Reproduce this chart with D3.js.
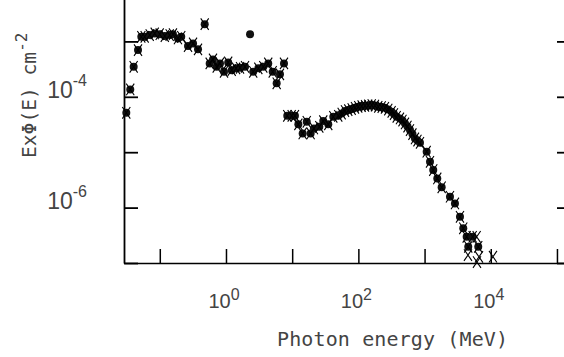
<!DOCTYPE html>
<html>
<head>
<meta charset="utf-8">
<script src="https://cdn.jsdelivr.net/npm/d3@7"></script>
<style>
  body { margin: 0; background: #fff; }
  svg { display: block; }
</style>
</head>
<body>
<div id="chart"></div>
<script>
// data: photon energy (MeV) and E x flux (cm^-2), points carrying both circle and cross
const energy = [0.0312, 0.0358, 0.0403, 0.0469, 0.0526, 0.0591, 0.0704, 0.0838, 0.0997, 0.119,
    0.141, 0.158, 0.188, 0.211, 0.267, 0.318, 0.378, 0.477, 0.567, 0.636,
    0.724, 0.812, 0.933, 1.08, 1.22, 1.42, 1.63, 1.94, 2.58, 3.08,
    3.66, 4.35, 5.08, 5.83, 6.54, 7.52, 8.43, 9.83, 11.0, 12.4,
    14.4, 16.6, 19.0, 21.3, 25.7, 29.5, 35.1, 41.8, 49.7, 55.9,
    62.8, 70.4, 79.2, 88.9, 99.6, 112, 126, 141, 159, 178,
    200, 225, 252, 283, 318, 345, 379, 425, 464, 506,
    552, 602, 656, 716, 781, 853, 1076, 1208, 1353, 1556,
    1812, 2421, 2878, 3427, 3843, 4324, 5330, 4571, 6471];
const flux = [5.14e-5, 1.36e-4, 3.48e-4, 6.96e-4, 1.21e-3, 1.21e-3, 1.30e-3, 1.39e-3, 1.35e-3, 1.25e-3,
    1.30e-3, 1.35e-3, 1.13e-3, 1.21e-3, 8.22e-4, 9.2e-4, 7.18e-4, 2.05e-3, 4.01e-4, 4.73e-4,
    3.48e-4, 4.01e-4, 2.82e-4, 4.18e-4, 3.03e-4, 3.26e-4, 3.34e-4, 3.48e-4, 2.82e-4, 3.26e-4,
    3.48e-4, 4.01e-4, 2.82e-4, 1.75e-4, 2.54e-4, 4.01e-4, 4.54e-5, 4.54e-5, 4.54e-5, 3.18e-5,
    2.18e-5, 3.54e-5, 2.18e-5, 2.69e-5, 2.87e-5, 3.64e-5, 3.18e-5, 4.36e-5, 4.54e-5, 4.98e-5,
    5.52e-5, 5.75e-5, 6.0e-5, 6.33e-5, 6.6e-5, 6.79e-5, 6.88e-5, 7.0e-5, 7.08e-5, 6.94e-5,
    6.6e-5, 6.52e-5, 6.33e-5, 5.88e-5, 5.36e-5, 4.88e-5, 4.36e-5, 4.07e-5, 3.72e-5, 3.31e-5,
    2.9e-5, 2.51e-5, 2.12e-5, 1.77e-5, 1.62e-5, 1.48e-5, 1.02e-5, 6.71e-6, 4.75e-6, 3.36e-6,
    2.32e-6, 1.57e-6, 1.19e-6, 6.82e-7, 4.22e-7, 2.97e-7, 2.97e-7, 1.96e-7, 1.96e-7];

// points with a circle only
const circleOnlyE = [2.31];
const circleOnlyF = [1.34e-3];

// points with a cross only
const crossOnlyE = [6124, 4525, 6637, 6190, 10800];
const crossOnlyF = [2.97e-7, 1.39e-7, 1.29e-7, 1.04e-7, 1.30e-7];

// ticks and labels
const xTicks = [1e-1, 1e0, 1e1, 1e2, 1e3, 1e4, 1e5];
const yTicks = [1e-7, 1e-6, 1e-5, 1e-4, 1e-3, 1e-2];
const xLabelVals = [1e0, 1e2, 1e4];
const xLabelExp = ['0', '2', '4'];
const yLabelVals = [1e-4, 1e-6];
const yLabelExp = ['-4', '-6'];

const width = 564, height = 357;
const plot = {left: 124, right: 571, top: -14, bottom: 263};
const tick = 14;
const textColor = '#444';

const svg = d3.select('#chart')
    .append('svg')
    .attr('width', width)
    .attr('height', height);

let x = d3.scaleLog()
    .domain([0.0288, 1.63e5])
    .range([plot.left, plot.right]);

let y = d3.scaleLog()
    .domain([1e-7, 1e-2])
    .range([plot.bottom, plot.top]);

// frame with inward ticks on all four sides
function styleAxis(g, w) {
    g.selectAll('path, line').attr('stroke', '#000').attr('stroke-width', w);
    g.selectAll('text').remove();
}
svg.append('g')
    .attr('transform', `translate(0,${plot.bottom})`)
    .call(d3.axisBottom(x).tickValues(xTicks).tickSizeInner(-tick).tickSizeOuter(0).tickFormat(''))
    .call(g => styleAxis(g, 1.5));
svg.append('g')
    .attr('transform', `translate(0,${plot.top})`)
    .call(d3.axisTop(x).tickValues(xTicks).tickSizeInner(-tick).tickSizeOuter(0).tickFormat(''))
    .call(g => styleAxis(g, 1.5));
svg.append('g')
    .attr('transform', `translate(${plot.left},0)`)
    .call(d3.axisLeft(y).tickValues(yTicks).tickSizeInner(-tick).tickSizeOuter(0).tickFormat(''))
    .call(g => styleAxis(g, 1.8));
svg.append('g')
    .attr('transform', `translate(${plot.right},0)`)
    .call(d3.axisRight(y).tickValues(yTicks).tickSizeInner(-tick).tickSizeOuter(0).tickFormat(''))
    .call(g => styleAxis(g, 1.8));

// tick labels as 10^n
xLabelVals.forEach((v, i) => {
    let t = svg.append('text')
        .attr('x', x(v) - 2)
        .attr('y', 308)
        .attr('text-anchor', 'middle')
        .attr('font-family', 'Liberation Sans, Arial, sans-serif')
        .attr('font-size', 20)
        .attr('fill', textColor);
    t.append('tspan').text('10');
    t.append('tspan').attr('dy', -8).attr('font-size', 16).text(xLabelExp[i]);
});
yLabelVals.forEach((v, i) => {
    let t = svg.append('text')
        .attr('x', 87)
        .attr('y', y(v) + 1.5)
        .attr('text-anchor', 'end')
        .attr('font-family', 'Liberation Sans, Arial, sans-serif')
        .attr('font-size', 23)
        .attr('fill', textColor);
    t.append('tspan').text('10');
    t.append('tspan').attr('dy', -12).attr('font-size', 16).text(yLabelExp[i]);
});

// axis titles
svg.append('text')
    .attr('x', 277)
    .attr('y', 346)
    .attr('font-family', 'DejaVu Sans Mono, monospace')
    .attr('font-size', 20)
    .attr('fill', textColor)
    .attr('textLength', 231)
    .attr('lengthAdjust', 'spacing')
    .text('Photon energy (MeV)');

let yt = svg.append('text')
    .attr('transform', 'translate(36,158) rotate(-90)')
    .attr('font-family', 'DejaVu Sans Mono, monospace')
    .attr('font-size', 19.6)
    .attr('fill', textColor);
yt.append('tspan').text('ExΦ(E) cm');
yt.append('tspan').attr('dy', -9).attr('font-size', 16).text('-2');

// markers
const circles = energy.map((e, i) => ({e: e, f: flux[i]}))
    .concat(circleOnlyE.map((e, i) => ({e: e, f: circleOnlyF[i]})));
const crosses = energy.map((e, i) => ({e: e, f: flux[i]}))
    .concat(crossOnlyE.map((e, i) => ({e: e, f: crossOnlyF[i]})));

svg.append('g')
    .selectAll('circle')
    .data(circles)
    .enter()
    .append('circle')
    .attr('cx', d => x(d.e))
    .attr('cy', d => y(d.f))
    .attr('r', 4)
    .attr('fill', '#111');

const cw = 4, ch = 5.8;
svg.append('g')
    .selectAll('path')
    .data(crosses)
    .enter()
    .append('path')
    .attr('d', d => {
        let cx = x(d.e), cy = y(d.f);
        return `M${cx - cw},${cy - ch}L${cx + cw},${cy + ch}M${cx + cw},${cy - ch}L${cx - cw},${cy + ch}`;
    })
    .attr('stroke', '#000')
    .attr('stroke-width', 1.1)
    .attr('fill', 'none');
</script>
</body>
</html>
